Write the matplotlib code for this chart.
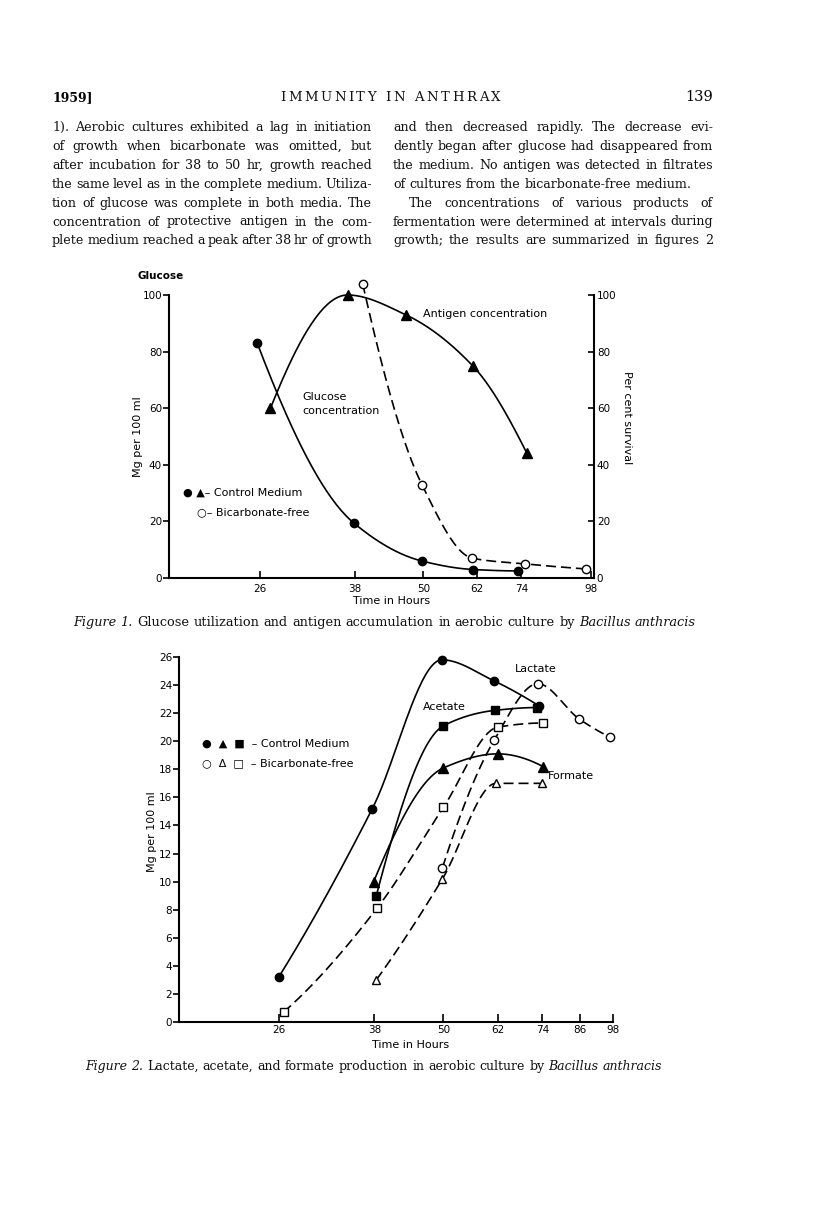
import numpy as np
import matplotlib
matplotlib.use("Agg")
import matplotlib.pyplot as plt
from matplotlib.ticker import NullLocator

W, H = 816, 1232
SERIF = ["DejaVu Serif"]
SANS = ["DejaVu Sans"]

# ---- figure 1: glucose utilization / antigen ----
glucose_t = [25.7, 37.8, 49.7, 61.0, 73.0]
glucose_v = [83, 19.5, 6, 3, 2.5]
antigen_t = [27.1, 36.9, 46.6, 60.9, 75.7]
antigen_v = [60, 100, 93, 75, 44]
bicarb_t = [39.2, 49.7, 60.8, 75.0, 95.8]
bicarb_v = [104, 33, 7, 5, 3.2]
fig1_xticks = [26, 38, 50, 62, 74, 98]
fig1_yticks = [0, 20, 40, 60, 80, 100]

# ---- figure 2: lactate / acetate / formate ----
lact_ctrl_t = [26.0, 37.7, 49.7, 61.1, 73.2]
lact_ctrl_v = [3.2, 15.2, 25.8, 24.3, 22.5]
acet_ctrl_t = [38.3, 50.0, 61.4, 72.4]
acet_ctrl_v = [9.0, 21.1, 22.2, 22.4]
form_ctrl_t = [37.9, 50.0, 62.0, 74.2]
form_ctrl_v = [10.0, 18.1, 19.1, 18.2]
lact_bf_t = [49.8, 61.2, 72.7, 85.6, 96.8]
lact_bf_v = [11.0, 20.1, 24.1, 21.6, 20.3]
acet_bf_t = [26.5, 38.4, 50.0, 62.0, 74.3]
acet_bf_v = [0.7, 8.1, 15.3, 21.0, 21.3]
form_bf_t = [38.3, 49.8, 61.6, 73.8]
form_bf_v = [3.0, 10.2, 17.0, 17.0]
fig2_xticks = [26, 38, 50, 62, 74, 86, 98]
fig2_yticks = list(range(0, 27, 2))

left_col = [
    "1). Aerobic cultures exhibited a lag in initiation",
    "of growth when bicarbonate was omitted, but",
    "after incubation for 38 to 50 hr, growth reached",
    "the same level as in the complete medium. Utiliza-",
    "tion of glucose was complete in both media. The",
    "concentration of protective antigen in the com-",
    "plete medium reached a peak after 38 hr of growth",
]
right_col = [
    "and then decreased rapidly. The decrease evi-",
    "dently began after glucose had disappeared from",
    "the medium. No antigen was detected in filtrates",
    "of cultures from the bicarbonate-free medium.",
    "The concentrations of various products of",
    "fermentation were determined at intervals during",
    "growth; the results are summarized in figures 2",
]
cap1 = [("Figure 1.", "italic"), ("Glucose utilization and antigen accumulation in aerobic culture by", "normal"),
        ("Bacillus anthracis", "italic")]
cap2 = [("Figure 2.", "italic"), ("Lactate, acetate, and formate production in aerobic culture by", "normal"),
        ("Bacillus anthracis", "italic")]


def rect(x0, y0, x1, y1):
    return [x0 / W, 1 - y1 / H, (x1 - x0) / W, (y1 - y0) / H]


def smooth(t, v, n=40):
    # monotone cubic (Fritsch-Carlson) through the read points, in log-time
    x = np.log(np.asarray(t, float))
    y = np.asarray(v, float)
    h = np.diff(x)
    d = np.diff(y) / h
    m = np.zeros_like(y)
    if len(x) == 2:
        m[:] = d[0]
    else:
        for k in range(1, len(x) - 1):
            if d[k - 1] * d[k] > 0:
                w1, w2 = 2 * h[k] + h[k - 1], h[k] + 2 * h[k - 1]
                m[k] = (w1 + w2) / (w1 / d[k - 1] + w2 / d[k])
        for i, (a, b, ha, hb) in ((0, (d[0], d[1], h[0], h[1])), (-1, (d[-1], d[-2], h[-1], h[-2]))):
            e = ((2 * ha + hb) * a - ha * b) / (ha + hb)
            if np.sign(e) != np.sign(a):
                e = 0
            elif np.sign(a) != np.sign(b) and abs(e) > 3 * abs(a):
                e = 3 * a
            m[i] = e
    xs, ys = [], []
    s = np.linspace(0, 1, n)
    for k in range(len(x) - 1):
        h00 = 2 * s ** 3 - 3 * s ** 2 + 1
        h10 = s ** 3 - 2 * s ** 2 + s
        h01 = -2 * s ** 3 + 3 * s ** 2
        h11 = s ** 3 - s ** 2
        xs.append(x[k] + s * h[k])
        ys.append(h00 * y[k] + h10 * h[k] * m[k] + h01 * y[k + 1] + h11 * h[k] * m[k + 1])
    return np.exp(np.concatenate(xs)), np.concatenate(ys)


DASH = (0, (6, 3))


def series(ax, t, v, marker, filled, dashed=False, ms=6):
    xs, ys = smooth(t, v)
    ax.plot(xs, ys, color="k", lw=1.2, ls=DASH if dashed else "-", clip_on=False, zorder=2)
    ax.plot(t, v, ls="none", marker=marker, ms=ms, mec="k", mew=1.0,
            mfc="k" if filled else "white", clip_on=False, zorder=3)


fig = plt.figure(figsize=(W / 100, H / 100), dpi=100)
fig.patch.set_facecolor("white")
r = fig.canvas.get_renderer()


def width(s, **kw):
    t = fig.text(0, 0, s, **kw)
    w = t.get_window_extent(r).width
    t.remove()
    return w


def words_line(tokens, x0, x1, y, fs, justify=True, family=SERIF):
    # tokens: list of (word, style); justified between x0 and x1
    kw = dict(fontsize=fs, family=family)
    ws = [width(w, style=st, **kw) for w, st in tokens]
    sp = width("x x", **kw) - width("xx", **kw)
    gap = (x1 - x0 - sum(ws)) / (len(tokens) - 1) if justify and len(tokens) > 1 else sp
    gap = max(gap, 0.6 * sp)
    x = x0
    for (w, st), wd in zip(tokens, ws):
        fig.text(x / W, 1 - y / H, w, style=st, va="baseline", ha="left", color="#111", **kw)
        x += wd + gap


def natural(tokens, fs, family=SERIF):
    kw = dict(fontsize=fs, family=family)
    sp = width("x x", **kw) - width("xx", **kw)
    return sum(width(w, style=st, **kw) for w, st in tokens) + sp * (len(tokens) - 1)


def ftext(x, y, s, **kw):
    kw.setdefault("family", SANS)
    kw.setdefault("va", "center")
    return fig.text(x / W, 1 - y / H, s, **kw)


# ---- page header and body text ----
ftext(52, 101, "1959]", family=SERIF, fontsize=9, va="baseline", weight="bold")
words_line([(c, "normal") for c in "IMMUNITY IN ANTHRAX"], 280, 482, 101, 9.5)
ftext(713, 101, "139", family=SERIF, fontsize=10.5, va="baseline", ha="right")

tok = lambda line: [(w, "normal") for w in line.split()]
fs_body = 9.1
for i, line in enumerate(left_col):
    words_line(tok(line), 52, 372, 131 + 18.9 * i, fs_body)
for i, line in enumerate(right_col):
    x0 = 409 if i == 4 else 393
    words_line(tok(line), x0, 713, 131 + 18.9 * i, fs_body, justify=(i != 3))


def caption(runs, x0, x1, y):
    toks = [(w, st) for txt, st in runs for w in txt.split()]
    fs = 10 * (x1 - x0) / natural(toks, 10)
    words_line(toks, x0, x1, y, fs)


caption(cap1, 73, 696, 626)
caption(cap2, 85, 662, 1070)

# ---- figure 1 ----
ax1 = fig.add_axes(rect(169, 295, 594, 578))
ax1.set_xscale("log")
ax1.set_xlim(18.05, 99)
ax1.set_ylim(0, 100)
series(ax1, glucose_t, glucose_v, "o", True)
series(ax1, antigen_t, antigen_v, "^", True, ms=6.5)
series(ax1, bicarb_t, bicarb_v, "o", False, dashed=True)
ax1.xaxis.set_minor_locator(NullLocator())
ax1.set_xticks(fig1_xticks, [str(t) for t in fig1_xticks])
ax1.set_yticks(fig1_yticks, [str(t) for t in fig1_yticks])
ax1.tick_params(axis="x", direction="in", length=5, width=1.2, pad=4, labelsize=7.5)
ax1.tick_params(axis="y", direction="out", length=4, width=1.2, pad=1, labelsize=7.5)
for s in ("top", "right"):
    ax1.spines[s].set_visible(False)
for s in ("left", "bottom"):
    ax1.spines[s].set_linewidth(1.5)
ax1r = ax1.twinx()
ax1r.set_ylim(0, 100)
ax1r.set_yticks(fig1_yticks, [str(t) for t in fig1_yticks])
ax1r.tick_params(axis="y", direction="in", length=4, width=1.2, pad=2, labelsize=7.5)
for s in ("top", "left", "bottom"):
    ax1r.spines[s].set_visible(False)
ax1r.spines["right"].set_linewidth(1.5)

ftext(138, 276, "Glucose", fontsize=7.5, weight="bold")
ftext(138, 437, "Mg per 100 ml", fontsize=8, rotation=90, ha="center")
ftext(627, 418, "Per cent survival", fontsize=8, rotation=270, ha="center")
ftext(392, 601, "Time in Hours", fontsize=8, ha="center")
ftext(423, 314, "Antigen concentration", fontsize=8)
ftext(302, 397, "Glucose", fontsize=8)
ftext(302, 411, "concentration", fontsize=8)
ftext(183, 493, "\u25cf \u25b2\u2013 Control Medium", fontsize=8)
ftext(197, 512, "\u25cb\u2013 Bicarbonate-free", fontsize=8)

# ---- figure 2 ----
ax2 = fig.add_axes(rect(179, 657, 613, 1022))
ax2.set_xscale("log")
ax2.set_xlim(17.5, 98)
ax2.set_ylim(0, 26)
series(ax2, lact_ctrl_t, lact_ctrl_v, "o", True)
series(ax2, acet_ctrl_t, acet_ctrl_v, "s", True, ms=5.5)
series(ax2, form_ctrl_t, form_ctrl_v, "^", True, ms=6.5)
series(ax2, lact_bf_t, lact_bf_v, "o", False, dashed=True)
series(ax2, acet_bf_t, acet_bf_v, "s", False, dashed=True, ms=5.5)
series(ax2, form_bf_t, form_bf_v, "^", False, dashed=True, ms=6)
ax2.xaxis.set_minor_locator(NullLocator())
ax2.set_xticks(fig2_xticks, [str(t) for t in fig2_xticks])
ax2.set_yticks(fig2_yticks, [str(t) for t in fig2_yticks])
ax2.tick_params(axis="x", direction="in", length=5.5, width=1.2, pad=2, labelsize=7.5)
ax2.tick_params(axis="y", direction="out", length=4, width=1.2, pad=1, labelsize=7.5)
for s in ("top", "right"):
    ax2.spines[s].set_visible(False)
for s in ("left", "bottom"):
    ax2.spines[s].set_linewidth(1.5)

ftext(152, 832, "Mg per 100 ml", fontsize=8, rotation=90, ha="center")
ftext(411, 1045, "Time in Hours", fontsize=8, ha="center")
ftext(515, 669, "Lactate", fontsize=8)
ftext(423, 707, "Acetate", fontsize=8)
ftext(548, 776, "Formate", fontsize=8)
ftext(202, 744, "\u25cf  \u25b2  \u25a0  \u2013 Control Medium", fontsize=8)
ftext(202, 763, "\u25cb  \u0394  \u25a1  \u2013 Bicarbonate-free", fontsize=8)

fig.savefig("out.png", dpi=100, facecolor="white")
